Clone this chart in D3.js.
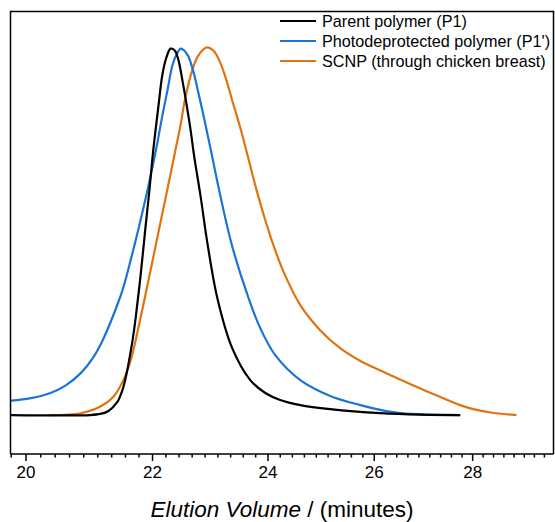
<!DOCTYPE html>
<html><head><meta charset="utf-8">
<script src="https://cdn.jsdelivr.net/npm/d3@7"></script>
<style>body{margin:0;background:#fff}svg{display:block}</style>
</head><body>
<svg id="chart" width="555" height="522"></svg>
<script>
// Elution volume (minutes) and normalised intensity
const p1Vol = [19.78, 21.00, 21.16, 21.29, 21.43, 21.48, 21.53, 21.58, 21.63, 21.68, 21.73, 21.81, 21.89, 21.96, 22.02, 22.11, 22.17, 22.24, 22.31, 22.38, 22.44, 22.51, 22.58, 22.65, 22.71, 22.82, 22.94, 23.11, 23.37, 23.69, 23.96, 24.23, 24.60, 25.16, 26.13, 26.93, 27.75];
const p1Int = [0, 0, 0.003, 0.011, 0.035, 0.052, 0.076, 0.111, 0.155, 0.204, 0.264, 0.378, 0.508, 0.617, 0.720, 0.845, 0.924, 0.973, 0.997, 0.992, 0.967, 0.910, 0.845, 0.774, 0.704, 0.595, 0.465, 0.318, 0.182, 0.095, 0.060, 0.041, 0.027, 0.016, 0.005, 0.001, 0];

const p1pVol = [19.78, 20.08, 20.38, 20.61, 20.85, 21.04, 21.19, 21.35, 21.52, 21.66, 21.79, 21.91, 22.01, 22.09, 22.17, 22.26, 22.34, 22.41, 22.48, 22.54, 22.61, 22.70, 22.78, 22.87, 22.99, 23.16, 23.37, 23.66, 23.87, 24.14, 24.60, 25.16, 25.74, 26.13, 26.53, 27.13, 27.75];
const p1pInt = [0.039, 0.046, 0.060, 0.080, 0.114, 0.155, 0.201, 0.264, 0.342, 0.429, 0.516, 0.601, 0.677, 0.742, 0.813, 0.886, 0.951, 0.981, 0.997, 0.992, 0.976, 0.932, 0.878, 0.815, 0.726, 0.598, 0.459, 0.318, 0.236, 0.163, 0.095, 0.052, 0.027, 0.014, 0.005, 0.001, 0];

const scnpVol = [20.38, 20.85, 21.16, 21.37, 21.53, 21.65, 21.81, 21.97, 22.14, 22.27, 22.39, 22.48, 22.54, 22.61, 22.68, 22.78, 22.92, 23.04, 23.16, 23.27, 23.37, 23.51, 23.62, 23.78, 23.96, 24.14, 24.32, 24.60, 24.97, 25.35, 25.74, 26.13, 26.53, 26.93, 27.34, 27.75, 27.96, 28.39, 28.95];
const scnpInt = [0, 0.005, 0.023, 0.050, 0.095, 0.149, 0.264, 0.389, 0.524, 0.625, 0.720, 0.791, 0.848, 0.899, 0.940, 0.978, 1.0, 0.992, 0.959, 0.910, 0.856, 0.783, 0.720, 0.625, 0.530, 0.448, 0.380, 0.299, 0.231, 0.182, 0.147, 0.121, 0.096, 0.072, 0.049, 0.027, 0.018, 0.007, 0];

const seriesNames = ["Parent polymer (P1)", "Photodeprotected polymer (P1')", "SCNP (through chicken breast)"];
const seriesColors = ["#000000", "#1a74d8", "#e0730f"];
const majorTicks = [20, 22, 24, 26, 28];
const xDomain = [19.775, 29.77];
const yDomain = [-0.106, 1.098];

const svg = d3.select("#chart");
const L = 10.5, R = 553.5, T = 11.5, B = 454;

const x = d3.scaleLog().domain(xDomain).range([L, R]);
const y = d3.scaleLinear().domain(yDomain).range([B, T]);

svg.append("defs").append("clipPath").attr("id", "clip")
  .append("rect").attr("x", L).attr("y", T).attr("width", R - L).attr("height", B - T);

const series = [
  {vol: p1Vol, int: p1Int},
  {vol: p1pVol, int: p1pInt},
  {vol: scnpVol, int: scnpInt}
];

const line = d3.line().x(d => x(d[0])).y(d => y(d[1])).curve(d3.curveCatmullRom.alpha(0.5));
const g = svg.append("g").attr("clip-path", "url(#clip)");
[2, 1, 0].forEach(i => {
  const s = series[i];
  g.append("path")
    .datum(s.vol.map((v, k) => [v, s.int[k]]))
    .attr("d", line)
    .attr("fill", "none")
    .attr("stroke", seriesColors[i])
    .attr("stroke-width", 2.2)
    .attr("stroke-linejoin", "round");
});

// frame
svg.append("path")
  .attr("d", `M${L},${B}V${T}H${R}V${B}`)
  .attr("fill", "none").attr("stroke", "#000").attr("stroke-width", 1.5);

// minor ticks
const minorTicks = [];
for (let m = 18; m < 30; m += 2) {
  for (let k = 1; k <= 8; k++) {
    const v = m + k * 2 / 9;
    if (v > xDomain[0] && v < xDomain[1]) minorTicks.push(v);
  }
}

const axis = d3.axisBottom(x)
  .tickValues(majorTicks)
  .tickFormat(d3.format("d"))
  .tickSize(7)
  .tickPadding(5);
const ax = svg.append("g").attr("transform", `translate(0,${B})`).call(axis);
ax.select(".domain").attr("stroke-width", 1.5).attr("d", `M${L},0H${R}`);
ax.selectAll(".tick line").attr("stroke-width", 1.5);
ax.selectAll(".tick text")
  .attr("font-family", "Liberation Sans, Arial, sans-serif")
  .attr("font-size", 17).attr("fill", "#000");

const minorAxis = d3.axisBottom(x).tickValues(minorTicks).tickFormat("").tickSize(3.5);
const mx = svg.append("g").attr("transform", `translate(0,${B})`).call(minorAxis);
mx.select(".domain").remove();
mx.selectAll(".tick line").attr("stroke-width", 1.5);

// x title
const title = svg.append("text")
  .attr("x", (L + R) / 2) .attr("y", 517)
  .attr("text-anchor", "middle")
  .attr("font-family", "Liberation Sans, Arial, sans-serif")
  .attr("font-size", 22.5).attr("fill", "#000");
title.append("tspan").attr("font-style", "italic").text("Elution Volume");
title.append("tspan").text(" / (minutes)");

// legend
const leg = svg.append("g");
seriesNames.forEach((name, i) => {
  const yy = 21 + i * 20;
  leg.append("line").attr("x1", 280).attr("x2", 316).attr("y1", yy).attr("y2", yy)
    .attr("stroke", seriesColors[i]).attr("stroke-width", 2.2);
  leg.append("text").attr("x", 322).attr("y", yy).attr("dy", "0.36em")
    .attr("font-family", "Liberation Sans, Arial, sans-serif")
    .attr("font-size", 16.2).attr("fill", "#000").text(name);
});
</script>
</body></html>
